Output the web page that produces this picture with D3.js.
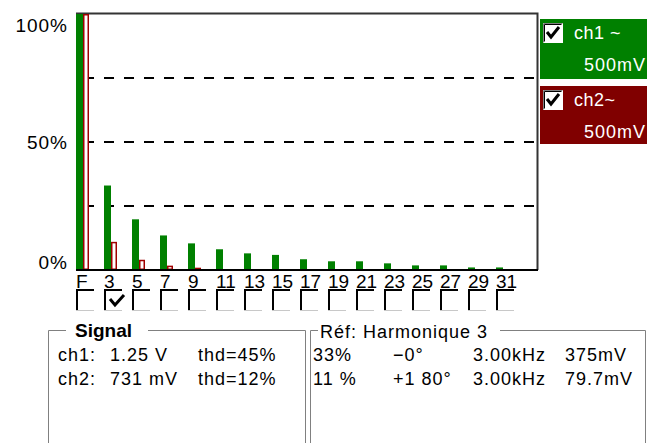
<!DOCTYPE html>
<html>
<head>
<meta charset="utf-8">
<script src="https://cdn.jsdelivr.net/npm/d3@7"></script>
<style>
  html, body { margin: 0; padding: 0; background: #fff; }
  svg { display: block; }
  text { font-family: "Liberation Sans", Arial, sans-serif; }
</style>
</head>
<body>
<svg id="chart" width="647" height="443"></svg>
<script>
// Harmonic ranks (F = fundamental) and amplitudes in % of fundamental
const harmonics = ["F", "3", "5", "7", "9", "11", "13", "15", "17", "19", "21", "23", "25", "27", "29", "31"];
const ch1Values = [100, 33, 19.8, 13.5, 10.4, 8.1, 6.5, 5.9, 4.2, 3.4, 3.4, 2.6, 1.8, 1.8, 1.0, 1.0];
const ch2Values = [100, 11, 4.0, 1.7, 0.9, 0.4, 0.4, 0.4, 0.4, 0.4, 0.4, 0.4, 0.4, 0.4, 0.4, 0.4];
const yTicks = [0, 50, 100];
const yGrid = [25, 50, 75];
const selectedHarmonic = "3";

// Channel legend
const channels = [
  { name: "ch1 ~", scale: "500mV", color: "#008000" },
  { name: "ch2~", scale: "500mV", color: "#800000" }
];

// Measurement panels
const signalRows = [
  ["ch1:", "1.25 V", "thd=45%"],
  ["ch2:", "731 mV", "thd=12%"]
];
const refRows = [
  [ch1Values[1] + "%", "\u22120\u00b0", "3.00kHz", "375mV"],
  [ch2Values[1] + " %", "+1 80\u00b0", "3.00kHz", "79.7mV"]
];

const svg = d3.select("#chart");
const plot = { left: 76, right: 538, top: 14, bottom: 270 };
const step = 28;

const x = d3.scaleBand()
  .domain(harmonics)
  .range([plot.left, plot.left + step * harmonics.length])
  .padding(0);
const y = d3.scaleLinear().domain([0, 100]).range([plot.bottom, plot.top]);

const greenW = 7, redW = 6;

// Frame (top and right edges)
svg.append("path")
  .attr("d", `M${plot.left},${plot.top - 0.5} H${plot.right - 0.5} V${plot.bottom}`)
  .attr("fill", "none").attr("stroke", "#333").attr("stroke-width", 2);

// Dashed grid lines
svg.append("g").selectAll("line").data(yGrid).join("line")
  .attr("x1", plot.left + 8).attr("x2", plot.right - 1)
  .attr("y1", d => y(d)).attr("y2", d => y(d))
  .attr("stroke", "#000").attr("stroke-width", 2)
  .attr("stroke-dasharray", "10,10");

// Y tick labels
const yLabelOffset = { 0: -8, 50: 0, 100: 11 };
svg.append("g").selectAll("text").data(yTicks).join("text")
  .attr("x", 68).attr("y", d => y(d) + yLabelOffset[d])
  .attr("dy", "0.36em")
  .attr("text-anchor", "end")
  .attr("font-size", 19).attr("letter-spacing", 1)
  .attr("fill", "#000")
  .text(d => d + "%");

// ch1 bars (filled green)
svg.append("g").selectAll("rect").data(harmonics).join("rect")
  .attr("x", d => x(d))
  .attr("y", (d, i) => y(ch1Values[i]))
  .attr("width", greenW)
  .attr("height", (d, i) => y(0) - y(ch1Values[i]))
  .attr("fill", "#008000");

// ch2 bars (dark red outline)
svg.append("g").selectAll("rect").data(harmonics).join("rect")
  .attr("x", d => x(d) + greenW + 0.75)
  .attr("y", (d, i) => y(ch2Values[i]) + 0.75)
  .attr("width", redW - 1.5)
  .attr("height", (d, i) => Math.max(0, y(0) - y(ch2Values[i]) - 1.5))
  .attr("fill", "#fff")
  .attr("stroke", "#a00000")
  .attr("stroke-width", 1.5);

// Baseline
svg.append("line")
  .attr("x1", plot.left).attr("x2", plot.right)
  .attr("y1", plot.bottom).attr("y2", plot.bottom)
  .attr("stroke", "#000").attr("stroke-width", 2);

// Harmonic labels with selection boxes
const sel = svg.append("g").selectAll("g").data(harmonics).join("g")
  .attr("transform", d => `translate(${x(d)},0)`);

sel.append("line")
  .attr("x1", 0).attr("x2", 18).attr("y1", 310.5).attr("y2", 310.5)
  .attr("stroke", "#c8c8c8").attr("stroke-width", 1);
sel.append("path")
  .attr("d", "M1,310 V290 H18")
  .attr("fill", "none").attr("stroke", "#000").attr("stroke-width", 2);
sel.append("text")
  .attr("x", 0).attr("y", 288)
  .attr("font-size", 19)
  .attr("fill", "#000")
  .text(d => d);
sel.filter(d => d === selectedHarmonic).append("path")
  .attr("d", "M6,299 L11,305 L20,295")
  .attr("fill", "none").attr("stroke", "#000").attr("stroke-width", 3);

// Channel legend boxes
const legendTops = [19, 86];
const legendHeights = [60, 58];
const leg = svg.append("g").selectAll("g").data(channels).join("g")
  .attr("transform", (d, i) => `translate(540,${legendTops[i]})`);
leg.append("rect")
  .attr("width", 107).attr("height", (d, i) => legendHeights[i])
  .attr("fill", d => d.color);
// Sunken checkbox
leg.append("rect").attr("x", 3).attr("y", 4).attr("width", 20).attr("height", 20).attr("fill", "#fff");
leg.append("path").attr("d", "M3.5,23.5 V4.5 H22.5").attr("fill", "none").attr("stroke", "#808080");
leg.append("path").attr("d", "M4.5,22.5 V5.5 H21.5").attr("fill", "none").attr("stroke", "#000");
leg.append("path").attr("d", "M7,13 L11,18 L19,8").attr("fill", "none").attr("stroke", "#000").attr("stroke-width", 3);
leg.append("text")
  .attr("x", 34).attr("y", 14).attr("dy", "0.36em")
  .attr("font-size", 18).attr("letter-spacing", 0.5).attr("fill", "#fff")
  .text(d => d.name);
leg.append("text")
  .attr("x", 44).attr("y", 46).attr("dy", "0.36em")
  .attr("font-size", 18).attr("letter-spacing", 1).attr("fill", "#fff")
  .text(d => d.scale);

// Measurement panels
function panel(x0, x1, top, titleStart, titleEnd) {
  svg.append("path")
    .attr("d", `M${titleStart},${top + 0.5} H${x0 + 0.5} V450 M${x1 - 0.5},450 V${top + 0.5} H${titleEnd}`)
    .attr("fill", "none").attr("stroke", "#808080").attr("stroke-width", 1);
}
panel(48, 306, 330, 66, 148);
panel(310, 646, 330, 318, 500);

svg.append("text")
  .attr("x", 75).attr("y", 330).attr("dy", "0.36em")
  .attr("font-size", 19).attr("font-weight", "bold").attr("fill", "#000")
  .text("Signal");
svg.append("text")
  .attr("x", 320).attr("y", 332).attr("dy", "0.36em")
  .attr("font-size", 18).attr("letter-spacing", 1).attr("fill", "#000")
  .text("R\u00e9f: Harmonique " + selectedHarmonic);

const rowY = [361, 385];
const signalCols = [58, 110, 198];
const refCols = [313, 393, 473, 565];

signalRows.forEach((row, r) => {
  row.forEach((t, c) => {
    svg.append("text")
      .attr("x", signalCols[c]).attr("y", rowY[r])
      .attr("font-size", 18).attr("letter-spacing", 1).attr("fill", "#000")
      .text(t);
  });
});
refRows.forEach((row, r) => {
  row.forEach((t, c) => {
    svg.append("text")
      .attr("x", refCols[c]).attr("y", rowY[r])
      .attr("font-size", 18).attr("letter-spacing", 1).attr("fill", "#000")
      .text(t);
  });
});
</script>
</body>
</html>
